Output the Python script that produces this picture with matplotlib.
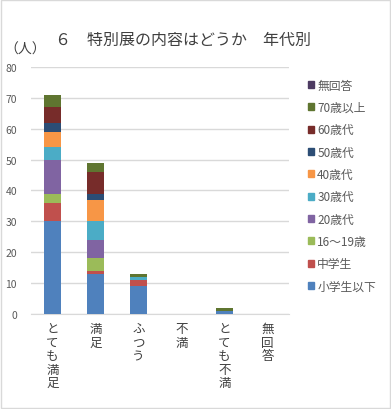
"""
特別展の内容はどうか - 年代別 積み上げ棒グラフ
"""
import matplotlib.pyplot as plt
import matplotlib.patches as mpatches
import numpy as np

plt.rcParams['font.family'] = ['Noto Sans CJK JP', 'DejaVu Sans']

# categories (x axis)
categories = ['とても満足', '満足', 'ふつう', '不満', 'とても不満', '無回答']

# age groups, bottom to top
groups = ['小学生以下', '中学生', '16～19歳', '20歳代', '30歳代',
          '40歳代', '50歳代', '60歳代', '70歳以上', '無回答']
colors = ['#4F81BD', '#C0504D', '#9BBB59', '#8064A2', '#4BACC6',
          '#F79646', '#2C4D75', '#772C2A', '#5F7530', '#4D3B62']

# counts per group, one value per category
shogakusei = [30, 13, 9, 0, 1, 0]
chugakusei = [6, 1, 2, 0, 0, 0]
age16_19 = [3, 4, 0, 0, 0, 0]
age20s = [11, 6, 0, 0, 0, 0]
age30s = [4, 6, 1, 0, 0, 0]
age40s = [5, 7, 0, 0, 0, 0]
age50s = [3, 2, 0, 0, 0, 0]
age60s = [5, 7, 0, 0, 0, 0]
age70plus = [4, 3, 1, 0, 1, 0]
mukaitou = [0, 0, 0, 0, 0, 0]

series = [shogakusei, chugakusei, age16_19, age20s, age30s,
          age40s, age50s, age60s, age70plus, mukaitou]

fig = plt.figure(figsize=(3.91, 4.10), dpi=100)
ax = fig.add_axes([0.079, 0.232, 0.660, 0.602])

x = np.arange(len(categories))
bottom = np.zeros(len(categories))
handles = []
for name, vals, c in zip(groups, series, colors):
    vals = np.array(vals, dtype=float)
    ax.bar(x, vals, width=0.4, bottom=bottom, color=c, zorder=3)
    bottom += vals
    handles.append(mpatches.Patch(color=c, label=name))

ax.set_xlim(-0.5, len(categories) - 0.5)
ax.set_ylim(0, 80)
ax.set_yticks(range(0, 81, 10))
ax.grid(axis='y', color='#D9D9D9', linewidth=1, zorder=0)
for s in ['top', 'right', 'left']:
    ax.spines[s].set_visible(False)
ax.spines['bottom'].set_color('#D9D9D9')
ax.tick_params(axis='y', length=0, labelsize=7.5, labelcolor='#595959', pad=10)
ax.tick_params(axis='x', length=0, pad=6)
ax.set_xticks(x)
ax.set_xticklabels(['\n'.join(c) for c in categories], fontsize=9,
                   color='#404040', va='top', linespacing=1.05)

leg = fig.legend(handles=handles[::-1], loc='upper left',
                 bbox_to_anchor=(0.775, 0.817), frameon=False,
                 fontsize=8.5, labelcolor='#595959', handlelength=0.55,
                 handleheight=0.55, handletextpad=0.25, labelspacing=0.79,
                 borderaxespad=0)

fig.text(0.012, 0.878, '（人）', fontsize=10, color='#404040', va='center')
fig.text(0.14, 0.902, '６　特別展の内容はどうか　年代別', fontsize=11.5,
         color='#404040', va='center')

fig.patches.append(mpatches.Rectangle((0.002, 0.002), 0.996, 0.996,
                                      transform=fig.transFigure, fill=False,
                                      edgecolor='#D9D9D9', linewidth=1))

plt.savefig('out.png', dpi=100)
plt.close()
